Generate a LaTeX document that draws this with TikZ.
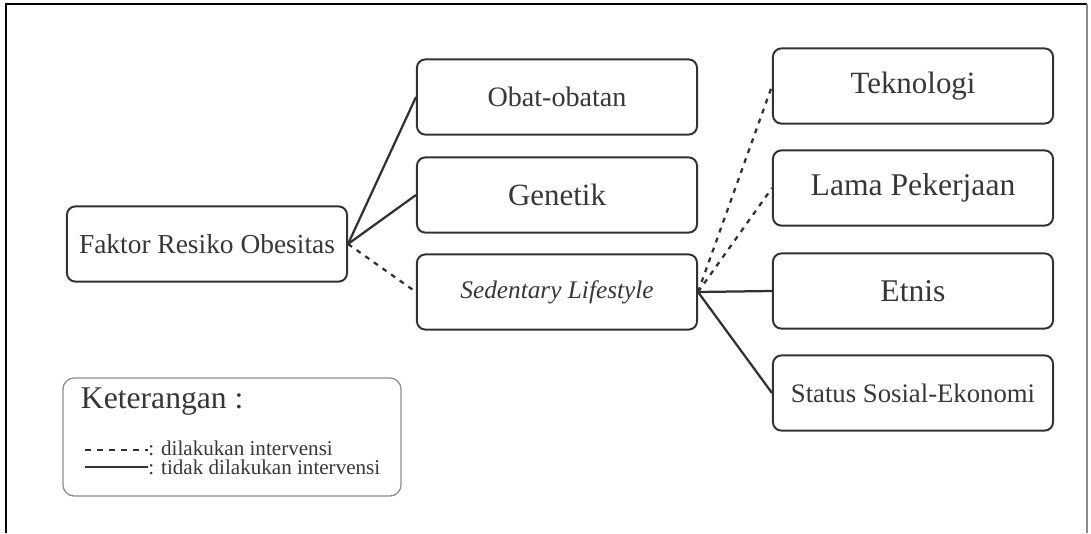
\documentclass[tikz,border=0pt]{standalone}
\usepackage{fontspec}
\setmainfont{Liberation Serif}
\usetikzlibrary{positioning}
\definecolor{lineColor}{RGB}{50,50,50}
\definecolor{textColor}{RGB}{55,55,55}
\definecolor{frameColor}{RGB}{140,140,140}

\begin{document}
\begin{tikzpicture}[
  x=0.025cm, y=-0.025cm,
  box/.style={draw=lineColor, line width=1.4pt, rounded corners=6pt,
    minimum width=7cm, minimum height=1.88cm, inner sep=0pt, text=textColor},
  link/.style={draw=lineColor, line width=1.6pt},
  dashlink/.style={link, dash pattern=on 3.5pt off 4pt},
  legendbox/.style={draw=frameColor, line width=0.9pt, rounded corners=8pt,
    minimum width=8.45cm, minimum height=2.95cm}
]
\useasboundingbox (0,0) rectangle (1091,533);
% frame
\draw[black, line width=1pt] (6,533) -- (6,4) -- (1087,4);
\draw[frameColor, line width=1pt] (1087,4) -- (1087,533);

\node[box, font=\fontsize{19.5}{23}\selectfont] (faktor) at (207,244) {Faktor Resiko Obesitas};
\node[box, font=\fontsize{20}{24}\selectfont] (obat) at (557,97) {Obat-obatan};
\node[box, font=\fontsize{22}{26}\selectfont] (genetik) at (557,195) {Genetik};
\node[box, font=\fontsize{18}{22}\selectfont\itshape] (sedentary) at (557,292) {Sedentary Lifestyle};
\node[box, font=\fontsize{22}{26}\selectfont] (teknologi) at (913,86) {Teknologi};
\node[box, font=\fontsize{22.5}{26}\selectfont] (lama) at (913,188) {Lama Pekerjaan};
\node[box, font=\fontsize{22.5}{26}\selectfont] (etnis) at (913,291) {Etnis};
\node[box, font=\fontsize{19}{23}\selectfont] (status) at (913,393) {Status Sosial-Ekonomi};

\draw[link] (faktor.east) -- (obat.west);
\draw[link] (faktor.east) -- (genetik.west);
\draw[dashlink] (faktor.east) -- (sedentary.west);
\draw[dashlink] (sedentary.east) -- (teknologi.west);
\draw[dashlink] (sedentary.east) -- (lama.west);
\draw[link] (sedentary.east) -- (etnis.west);
\draw[link] (sedentary.east) -- (status.west);

% keterangan
\node[legendbox] (legend) at (232,437) {};
\node[anchor=west, text=textColor, font=\fontsize{22.5}{26}\selectfont] (ket) at (76,402) {Keterangan :};
\node[anchor=west, text=textColor, inner sep=0pt, font=\fontsize{15}{17}\selectfont] (dil) at (148,448) {: dilakukan intervensi};
\node[anchor=west, text=textColor, inner sep=0pt, font=\fontsize{15}{17}\selectfont] (tdk) at (148,467) {: tidak dilakukan intervensi};
\coordinate (dilstart) at (85,450);
\coordinate (tdkstart) at (85,467);
\draw[link, dash pattern=on 4.5pt off 4pt] (dilstart) -- (dil.west |- dilstart);
\draw[link] (tdkstart) -- (tdk.west |- tdkstart);
\end{tikzpicture}
\end{document}
